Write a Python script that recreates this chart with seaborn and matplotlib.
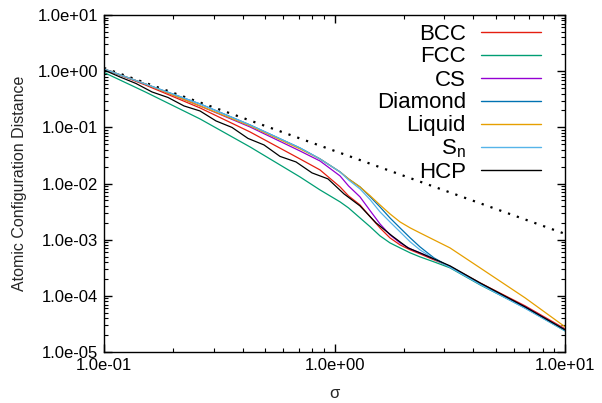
import matplotlib
matplotlib.use("Agg")
import matplotlib.pyplot as plt
from matplotlib.lines import Line2D
import seaborn as sns
import pandas as pd
from matplotlib.ticker import LogLocator, FuncFormatter, NullFormatter

# ---------------- data ----------------
sigma = [0.1, 0.151, 0.261, 0.43, 0.708, 0.865, 1.057, 1.15, 1.29, 1.43,
         1.575, 1.74, 1.924, 2.13, 2.349, 2.7, 3.17, 4.28, 6.71, 10.0]

bcc = [1.094, 0.568, 0.2215, 0.0828, 0.0274, 0.01746, 0.00870, 0.00602,
       0.00416, 0.002544, 0.00162, 0.001076, 0.000808, 0.000658, 0.000559,
       0.000437, 0.000335, 0.000170, 6.64e-5, 2.59e-5]
fcc = [0.948, 0.427, 0.1411, 0.0448, 0.01311, 0.00769, 0.00471, 0.00368,
       0.00244, 0.00169, 0.00117, 0.000877, 0.000714, 0.000582, 0.000494,
       0.000403, 0.000315, 0.000157, 6.11e-5, 2.38e-5]
cs = [1.094, 0.592, 0.240, 0.1016, 0.0380, 0.0252, 0.01365, 0.00907,
      0.00578, 0.00325, 0.00191, 0.001218, 0.000877, 0.000686, 0.000582,
      0.000455, 0.000328, 0.0001635, 6.37e-5, 2.48e-5]
diamond = [1.094, 0.592, 0.261, 0.1103, 0.0430, 0.0274, 0.01608, 0.01208,
           0.00870, 0.00578, 0.00383, 0.00244, 0.00162, 0.001076, 0.000744,
           0.000474, 0.000328, 0.0001635, 6.11e-5, 2.48e-5]
liquid = [1.094, 0.592, 0.240, 0.1059, 0.0413, 0.0274, 0.01608, 0.01208,
          0.00870, 0.00602, 0.00416, 0.00288, 0.00207, 0.00162, 0.00132,
          0.000992, 0.000714, 0.000315, 9.21e-5, 2.81e-5]
sn = [1.094, 0.592, 0.261, 0.1103, 0.0430, 0.0274, 0.01608, 0.01159,
      0.00801, 0.00511, 0.00313, 0.00207, 0.00138, 0.000914, 0.000658,
      0.000455, 0.000322, 0.000160, 6.0e-5, 2.38e-5]

sigma_hcp = [0.1, 0.1173, 0.1376, 0.1615, 0.1895, 0.2224, 0.2609, 0.3061,
             0.3592, 0.4214, 0.4944, 0.5801, 0.6808, 0.7989, 0.9372, 1.0995,
             1.290, 1.514, 1.776, 2.084, 2.349, 3.17, 4.28, 6.71, 10.0]
hcp = [1.050, 0.788, 0.604, 0.4265, 0.3404, 0.2403, 0.1957, 0.1300,
       0.0996, 0.0635, 0.0486, 0.0304, 0.0242, 0.01544, 0.01208, 0.00653,
       0.00399, 0.00199, 0.00117, 0.000714, 0.000582, 0.000342, 0.000170,
       6.37e-5, 2.48e-5]

sigma_ref = [0.1, 1.0, 10.0]
ref = [1.14, 0.0381, 0.00127]

labels = ["BCC", "FCC", "CS", "Diamond", "Liquid", "S$_n$", "HCP"]
colors = ["#e51e10", "#009e73", "#9400d3", "#0072b2", "#e69f00", "#56b4e9", "#000000"]

# ---------------- long-form table ----------------
frames = []
for lab, xs, ys in zip(labels,
                       [sigma, sigma, sigma, sigma, sigma, sigma, sigma_hcp],
                       [bcc, fcc, cs, diamond, liquid, sn, hcp]):
    frames.append(pd.DataFrame({"sigma": xs, "dist": ys, "structure": lab}))
df = pd.concat(frames, ignore_index=True)
df_ref = pd.DataFrame({"sigma": sigma_ref, "dist": ref})

# ---------------- style ----------------
sns.set_theme(style="ticks")
plt.rcParams["font.family"] = ["Liberation Sans", "DejaVu Sans"]
plt.rcParams["mathtext.default"] = "regular"
plt.rcParams["axes.linewidth"] = 1.0

W, H = 602, 403
L, R, T, B = 104, 565, 15, 352
fig = plt.figure(figsize=(W / 100, H / 100), dpi=100)
ax = fig.add_axes([L / W, 1 - B / H, (R - L) / W, (B - T) / H])

sns.lineplot(data=df_ref, x="sigma", y="dist", ax=ax, color="black",
             linestyle=(0, (1, 3.2)), linewidth=1.6, legend=False)
sns.lineplot(data=df, x="sigma", y="dist", hue="structure", hue_order=labels,
             palette=dict(zip(labels, colors)), estimator=None, sort=False,
             linewidth=0.9, ax=ax, legend=False)

ax.set_xscale("log")
ax.set_yscale("log")
ax.set_xlim(0.1, 10)
ax.set_ylim(1e-5, 10)

fmt = FuncFormatter(lambda v, _: f"{v:.1e}")
ax.xaxis.set_major_locator(LogLocator(base=10, numticks=10))
ax.yaxis.set_major_locator(LogLocator(base=10, numticks=10))
ax.xaxis.set_major_formatter(fmt)
ax.yaxis.set_major_formatter(fmt)
ax.xaxis.set_minor_locator(LogLocator(base=10, subs=range(2, 10), numticks=20))
ax.yaxis.set_minor_locator(LogLocator(base=10, subs=range(2, 10), numticks=20))
ax.xaxis.set_minor_formatter(NullFormatter())
ax.yaxis.set_minor_formatter(NullFormatter())
ax.xaxis.offsetText.set_visible(False)
ax.yaxis.offsetText.set_visible(False)
ax.tick_params(which="both", direction="in", top=True, right=True,
               colors="black", labelsize=12)
ax.tick_params(which="major", length=6, width=1.0, pad=4)
ax.tick_params(which="minor", length=3.2, width=0.8)
for s in ax.spines.values():
    s.set_color("black")
    s.set_linewidth(1.0)

ax.set_xlabel("σ", fontsize=12, labelpad=10)
ax.set_ylabel("Atomic Configuration Distance", fontsize=11.5, labelpad=8)

# legend: right-aligned labels, line samples to their right (gnuplot style)
text_x = (466 - L) / (R - L)
line_x0 = (481 - L) / (R - L)
line_x1 = (541 - L) / (R - L)
for i, (lab, col) in enumerate(zip(labels, colors)):
    yc = 32 + 23 * i
    y_line = 1 - (yc - T) / (B - T)
    y_base = 1 - (yc + 7.5 - T) / (B - T)
    ax.text(text_x, y_base, lab, transform=ax.transAxes, ha="right",
            va="baseline", fontsize=16, color="black")
    ax.add_line(Line2D([line_x0, line_x1], [y_line, y_line], color=col,
                       linewidth=1.0, transform=ax.transAxes))

fig.savefig("out.png", dpi=100)
